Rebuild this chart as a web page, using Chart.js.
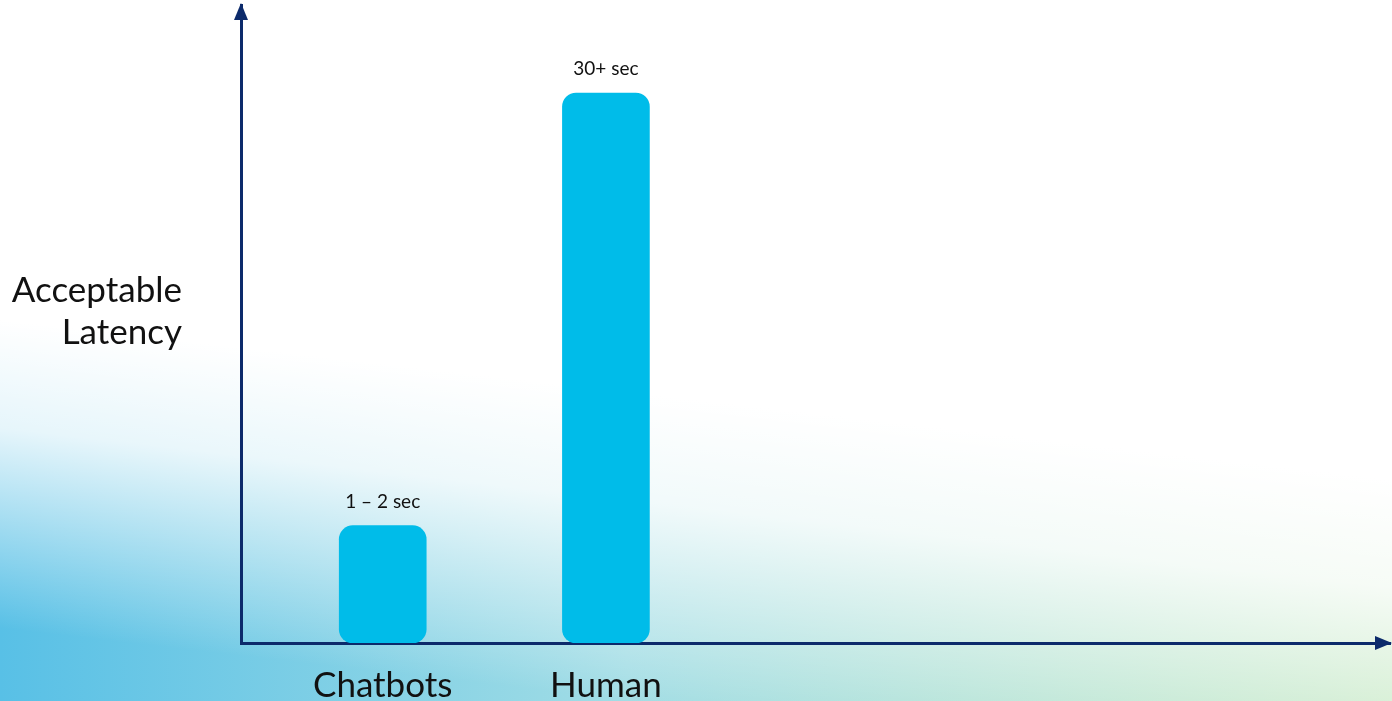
<!DOCTYPE html>
<html>
<head>
<meta charset="utf-8">
<script src="https://cdn.jsdelivr.net/npm/chart.js@4/dist/chart.umd.min.js"></script>
<style>
  html, body { margin: 0; padding: 0; background: #fff; }
  #wrap { width: 1392px; height: 701px; position: relative; }
</style>
</head>
<body>
<div id="wrap"><canvas id="latency"></canvas></div>
<script>
// data (bar heights are relative, not to scale with the labels)
const categories = ['Chatbots', 'Human'];
const barValues = [6.4, 30];
const barLabels = ['1 \u2013 2 sec', '30+ sec'];
const yTitleLines = ['Acceptable', 'Latency'];

const navy = '#0c2a6b';
const barBlue = '#00bce9';
const fontFamily = 'Lato, "Open Sans", sans-serif';

const backdrop = {
   id: 'backdrop',
   beforeDraw(chart) {
      const { ctx, width, height } = chart;
      ctx.save();
      const h = ctx.createLinearGradient(0, 0, width, 0);
      h.addColorStop(0, '#58c0e6');
      h.addColorStop(0.45, '#a2dde5');
      h.addColorStop(1, '#c4e8c2');
      ctx.fillStyle = h;
      ctx.fillRect(0, 0, width, height);
      const v = ctx.createLinearGradient(700, 400, 665, 705);
      v.addColorStop(0, 'rgba(255,255,255,1)');
      v.addColorStop(0.35, 'rgba(255,255,255,0.85)');
      v.addColorStop(1, 'rgba(255,255,255,0)');
      ctx.fillStyle = v;
      ctx.fillRect(0, 0, width, height);
      ctx.restore();
   },
};

const decorations = {
   id: 'decorations',
   afterDraw(chart) {
      const { ctx, chartArea } = chart;
      ctx.save();
      // arrow heads on both axes
      ctx.fillStyle = navy;
      ctx.beginPath();
      ctx.moveTo(chartArea.left, chartArea.top - 2);
      ctx.lineTo(chartArea.left - 7, chartArea.top + 15);
      ctx.lineTo(chartArea.left + 7, chartArea.top + 15);
      ctx.closePath();
      ctx.fill();
      ctx.beginPath();
      ctx.moveTo(chartArea.right + 2, chartArea.bottom);
      ctx.lineTo(chartArea.right - 15, chartArea.bottom - 7);
      ctx.lineTo(chartArea.right - 15, chartArea.bottom + 7);
      ctx.closePath();
      ctx.fill();

      // value labels above the bars
      ctx.fillStyle = '#111';
      ctx.font = '19px ' + fontFamily;
      ctx.textAlign = 'center';
      ctx.textBaseline = 'alphabetic';
      chart.getDatasetMeta(0).data.forEach((bar, i) => {
         ctx.fillText(barLabels[i], bar.x, bar.y - 18);
      });

      // horizontal y axis title
      ctx.font = '35px ' + fontFamily;
      ctx.textAlign = 'right';
      yTitleLines.forEach((line, i) => {
         ctx.fillText(line, chartArea.left - 59, 302 + i * 42);
      });
      ctx.restore();
   },
};

new Chart(document.getElementById('latency'), {
   type: 'bar',
   data: {
      datasets: [
         {
            data: categories.map((c, i) => ({ x: i, y: barValues[i] })),
            backgroundColor: barBlue,
            borderRadius: 14,
            borderSkipped: false,
            barThickness: 87,
         },
      ],
   },
   options: {
      responsive: true,
      maintainAspectRatio: false,
      animation: false,
      layout: { padding: { left: 241, right: 2, top: 5, bottom: 0 } },
      plugins: { legend: { display: false }, tooltip: { enabled: false } },
      scales: {
         x: {
            type: 'linear',
            offset: false,
            min: -0.635,
            max: 4.513,
            afterFit: (scale) => { scale.height = 58; },
            grid: { display: false, drawTicks: false },
            border: { display: true, color: navy, width: 3 },
            ticks: {
               stepSize: 1,
               includeBounds: false,
               autoSkip: false,
               maxRotation: 0,
               padding: 22,
               color: '#111',
               font: { family: fontFamily, size: 35 },
               callback: (v) => (Number.isInteger(v) && categories[v]) ? categories[v] : '',
            },
         },
         y: {
            min: 0,
            max: 34.8,
            grid: { display: false, drawTicks: false },
            border: { display: true, color: navy, width: 3 },
            ticks: { display: false },
         },
      },
   },
   plugins: [backdrop, decorations],
});
</script>
</body>
</html>
